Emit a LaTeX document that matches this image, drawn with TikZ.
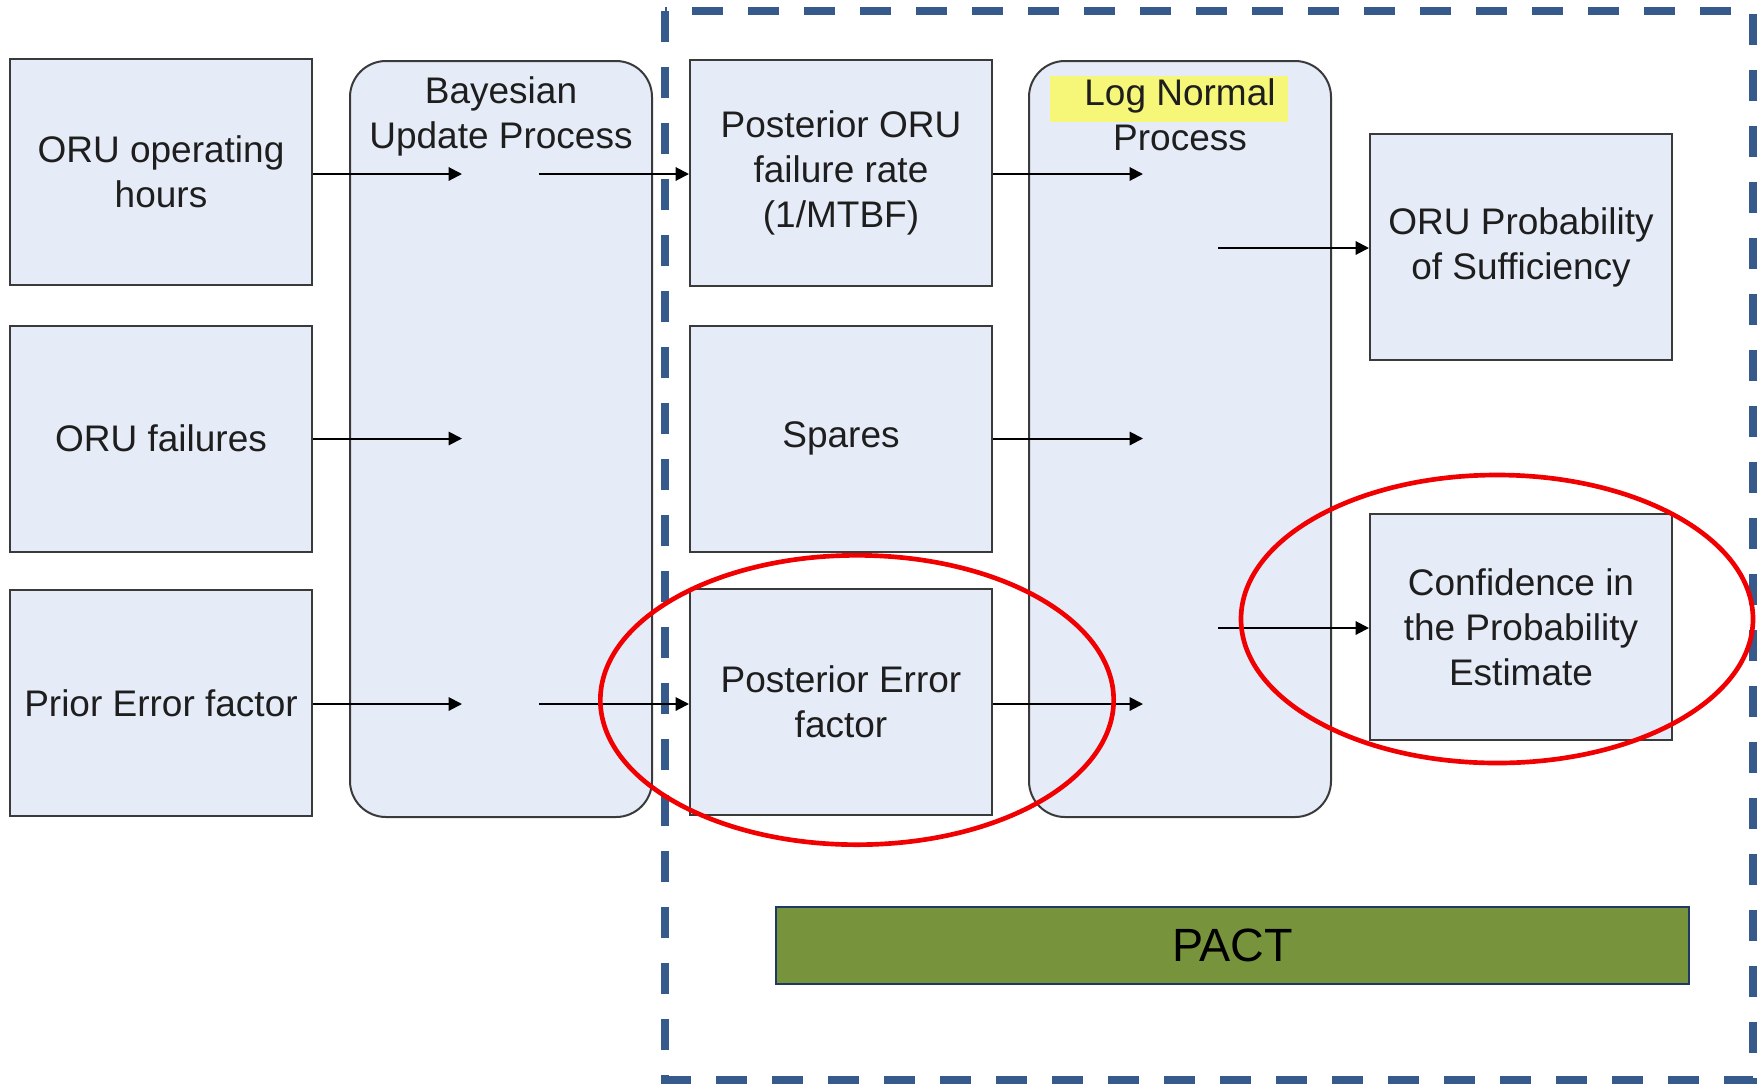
\documentclass[tikz,border=0pt]{standalone}
\usepackage{fontspec}
\setmainfont{Liberation Sans}
\usetikzlibrary{arrows.meta,shapes.geometric}
\definecolor{boxfill}{RGB}{230,236,247}
\definecolor{boxline}{RGB}{58,58,58}
\definecolor{frameblue}{RGB}{55,90,140}
\definecolor{ovalred}{RGB}{240,0,0}
\definecolor{pactgreen}{RGB}{119,147,60}
\definecolor{pactline}{RGB}{31,56,100}
\definecolor{hiyellow}{RGB}{246,246,120}
\definecolor{txt}{RGB}{30,30,30}
\begin{document}
\begin{tikzpicture}[x=0.75pt,y=-0.75pt,
  box/.style={draw=boxline,line width=1.5pt,fill=boxfill,minimum width=226.5pt,minimum height=169.5pt,
    align=center,text=txt,font=\fontsize{27.75}{33.75}\selectfont,inner sep=0pt},
  proc/.style={draw=boxline,line width=1.5pt,fill=boxfill,rounded corners=27pt,minimum width=226.5pt,minimum height=567pt,inner sep=0pt},
  lab/.style={align=center,text=txt,font=\fontsize{27.75}{33.75}\selectfont,inner sep=0pt},
  flow/.style={draw=black,line width=1.5pt,-{Triangle[length=10pt,width=10pt]}},
  oval/.style={draw=ovalred,line width=3.5pt,ellipse,inner sep=0pt}
]
\useasboundingbox (0,0) rectangle (1764,1083);
% dashed frame
\draw[frameblue,line width=6pt,dash pattern=on 23pt off 19pt] (665,11) rectangle (1753,1080);
% process boxes
\node[proc] (bu) at (501,439) {};
\node[proc] (ln) at (1180,439) {};
\node[lab,anchor=center] (bulab) at (501,116) {Bayesian\\Update Process};
\fill[hiyellow] (1050,76) rectangle (1288,122);
\node[lab,anchor=center] (lnlab) at (1180,115) {Log Normal\\Process};
% boxes
\node[box] (oh) at (161,172) {ORU operating\\hours};
\node[box,text depth=0pt] (fa) at (161,438.5) {ORU failures};
\node[box] (pe) at (161,703) {Prior Error factor};
\node[box] (po) at (841,173) {Posterior ORU\\failure rate\\(1/MTBF)};
\node[box] (sp) at (841,438.5) {Spares};
\node[box] (pef) at (841,702) {Posterior Error\\factor};
\node[box] (ps) at (1521,247) {ORU Probability\\of Sufficiency};
\node[box] (cf) at (1521,627) {Confidence in\\the Probability\\Estimate};
\node[draw=pactline,line width=1.2pt,fill=pactgreen,minimum width=684.75pt,minimum height=57.75pt,inner sep=0pt,
  font=\fontsize{35}{42}\selectfont,text=black] (pact) at (1232.5,945.5) {PACT};
% free ends
\coordinate (buin1) at (462,174);
\coordinate (buin2) at (462,438.5);
\coordinate (buin3) at (462,704);
\coordinate (buout1) at (539,174);
\coordinate (buout3) at (539,704);
\coordinate (lnin1) at (1143,174);
\coordinate (lnin2) at (1143,438.5);
\coordinate (lnin3) at (1143,704);
\coordinate (lnout1) at (1218,248);
\coordinate (lnout2) at (1218,628);
% arrows
\draw[flow] (oh.east |- buin1) -- (buin1);
\draw[flow] (fa.east |- buin2) -- (buin2);
\draw[flow] (pe.east |- buin3) -- (buin3);
\draw[flow] (buout1) -- (buout1 -| po.west);
\draw[flow] (buout3) -- (buout3 -| pef.west);
\draw[flow] (po.east |- lnin1) -- (lnin1);
\draw[flow] (sp.east |- lnin2) -- (lnin2);
\draw[flow] (pef.east |- lnin3) -- (lnin3);
\draw[flow] (lnout1) -- (lnout1 -| ps.west);
\draw[flow] (lnout2) -- (lnout2 -| cf.west);
% red ovals
\node[oval,minimum width=385pt,minimum height=217pt] (ov1) at (857,700) {};
\node[oval,minimum width=384pt,minimum height=216pt] (ov2) at (1497,619) {};
\end{tikzpicture}
\end{document}
